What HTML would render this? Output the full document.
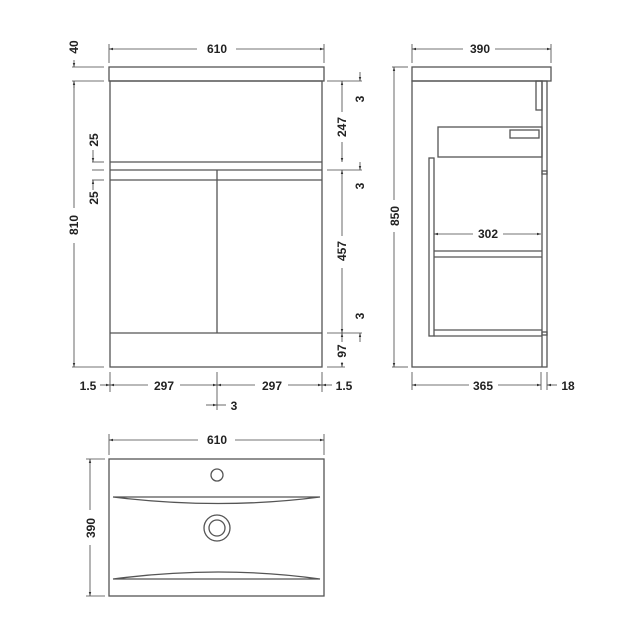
<!DOCTYPE html>
<html><head><meta charset="utf-8"><style>html,body{margin:0;padding:0;background:#fff}svg{display:block}
text{font-family:"Liberation Sans",sans-serif;font-weight:bold;font-size:12px;fill:#222}</style></head>
<body>
<svg width="643" height="643" viewBox="0 0 643 643" xmlns="http://www.w3.org/2000/svg">
<defs>
<marker id="a" viewBox="0 0 10 10" refX="10" refY="5" markerWidth="5" markerHeight="5" orient="auto-start-reverse"><path d="M0,2 L10,5 L0,8z" fill="#333"/></marker>
</defs>
<g stroke="#555" stroke-width="1.3" fill="none">
<!-- front view -->
<rect x="109" y="67" width="215" height="14"/>
<rect x="110" y="81" width="212" height="286"/>
<line x1="110" y1="162" x2="322" y2="162"/>
<line x1="110" y1="170" x2="322" y2="170"/>
<line x1="110" y1="180" x2="322" y2="180"/>
<line x1="217" y1="170" x2="217" y2="333"/>
<line x1="110" y1="333" x2="322" y2="333"/>
</g>
<g stroke="#444" stroke-width="0.8" fill="none">
<line x1="109" y1="44" x2="109" y2="63"/><line x1="324" y1="44" x2="324" y2="63"/>
<line x1="109" y1="49" x2="197" y2="49" marker-start="url(#a)"/><line x1="236" y1="49" x2="324" y2="49" marker-end="url(#a)"/>
<line x1="72" y1="67" x2="104" y2="67"/><line x1="72" y1="81" x2="104" y2="81"/>
<line x1="74" y1="60" x2="74" y2="67" marker-end="url(#a)"/><line x1="74" y1="81" x2="74" y2="88"/>
<line x1="74" y1="81" x2="74" y2="208" marker-start="url(#a)"/><line x1="74" y1="243" x2="74" y2="367" marker-end="url(#a)"/>
<line x1="72" y1="367" x2="104" y2="367"/>
<line x1="92" y1="162" x2="104" y2="162"/><line x1="92" y1="170" x2="104" y2="170"/><line x1="92" y1="180" x2="104" y2="180"/>
<line x1="93" y1="150" x2="93" y2="162" marker-end="url(#a)"/><line x1="93" y1="180" x2="93" y2="190" marker-start="url(#a)"/>
<line x1="327" y1="81" x2="362" y2="81"/><line x1="327" y1="170" x2="362" y2="170"/><line x1="327" y1="333" x2="362" y2="333"/><line x1="327" y1="367" x2="345" y2="367"/>
<line x1="342" y1="81" x2="342" y2="112" marker-start="url(#a)"/><line x1="342" y1="142" x2="342" y2="162" marker-end="url(#a)"/>
<line x1="342" y1="170" x2="342" y2="236" marker-start="url(#a)"/><line x1="342" y1="268" x2="342" y2="333" marker-end="url(#a)"/>
<line x1="342" y1="333" x2="342" y2="342" marker-start="url(#a)"/><line x1="342" y1="362" x2="342" y2="367" marker-end="url(#a)"/>
<line x1="360" y1="72" x2="360" y2="81" marker-end="url(#a)"/><line x1="360" y1="162" x2="360" y2="170" marker-end="url(#a)"/><line x1="360" y1="333" x2="360" y2="342" marker-start="url(#a)"/>
<line x1="110" y1="372" x2="110" y2="392"/><line x1="217" y1="372" x2="217" y2="410"/><line x1="322" y1="372" x2="322" y2="392"/>
<line x1="100" y1="385" x2="110" y2="385" marker-end="url(#a)"/>
<line x1="110" y1="385" x2="148" y2="385" marker-start="url(#a)"/><line x1="180" y1="385" x2="217" y2="385" marker-end="url(#a)"/>
<line x1="217" y1="385" x2="255" y2="385" marker-start="url(#a)"/><line x1="288" y1="385" x2="322" y2="385" marker-end="url(#a)"/>
<line x1="322" y1="385" x2="332" y2="385" marker-start="url(#a)"/>
<line x1="206" y1="405" x2="217" y2="405" marker-end="url(#a)"/><line x1="217" y1="405" x2="226" y2="405"/>
</g>
<g fill="#222">
<text x="217" y="53" text-anchor="middle">610</text>
<text transform="translate(78,47) rotate(-90)" text-anchor="middle">40</text>
<text transform="translate(78,225) rotate(-90)" text-anchor="middle">810</text>
<text transform="translate(98,140) rotate(-90)" text-anchor="middle">25</text>
<text transform="translate(98,198) rotate(-90)" text-anchor="middle">25</text>
<text transform="translate(346,127) rotate(-90)" text-anchor="middle">247</text>
<text transform="translate(346,251) rotate(-90)" text-anchor="middle">457</text>
<text transform="translate(346,351) rotate(-90)" text-anchor="middle">97</text>
<text transform="translate(364,99) rotate(-90)" text-anchor="middle">3</text>
<text transform="translate(364,186) rotate(-90)" text-anchor="middle">3</text>
<text transform="translate(364,316) rotate(-90)" text-anchor="middle">3</text>
<text x="88" y="390" text-anchor="middle">1.5</text>
<text x="164" y="390" text-anchor="middle">297</text>
<text x="272" y="390" text-anchor="middle">297</text>
<text x="344" y="390" text-anchor="middle">1.5</text>
<text x="234" y="410" text-anchor="middle">3</text>
</g>
<!-- side view -->
<g stroke="#555" stroke-width="1.3" fill="none">
<rect x="412" y="67" width="139" height="14"/>
<rect x="412" y="81" width="135" height="286"/>
<line x1="542" y1="81" x2="542" y2="367"/>
<rect x="536" y="81" width="6" height="29"/>
<rect x="438" y="127" width="104" height="30"/>
<rect x="510" y="130" width="29" height="8"/>
<rect x="429" y="158" width="5" height="178"/>
<line x1="434" y1="251" x2="542" y2="251"/><line x1="434" y1="257" x2="542" y2="257"/>
<line x1="434" y1="330" x2="542" y2="330"/><line x1="434" y1="336" x2="542" y2="336"/>
<rect x="542" y="171" width="5" height="3"/><rect x="542" y="332" width="5" height="3"/>
</g>
<g stroke="#444" stroke-width="0.8" fill="none">
<line x1="412" y1="44" x2="412" y2="63"/><line x1="551" y1="44" x2="551" y2="63"/>
<line x1="412" y1="49" x2="463" y2="49" marker-start="url(#a)"/><line x1="495" y1="49" x2="551" y2="49" marker-end="url(#a)"/>
<line x1="392" y1="67" x2="408" y2="67"/><line x1="392" y1="367" x2="408" y2="367"/>
<line x1="394" y1="67" x2="394" y2="200" marker-start="url(#a)"/><line x1="394" y1="232" x2="394" y2="367" marker-end="url(#a)"/>
<line x1="434" y1="234" x2="473" y2="234" marker-start="url(#a)"/><line x1="503" y1="234" x2="541" y2="234" marker-end="url(#a)"/>
<line x1="412" y1="372" x2="412" y2="390"/><line x1="541" y1="372" x2="541" y2="390"/><line x1="547" y1="372" x2="547" y2="390"/>
<line x1="412" y1="385" x2="469" y2="385" marker-start="url(#a)"/><line x1="498" y1="385" x2="541" y2="385" marker-end="url(#a)"/>
<line x1="547" y1="385" x2="557" y2="385" marker-start="url(#a)"/>
</g>
<text x="480" y="53" text-anchor="middle">390</text>
<text transform="translate(399,216) rotate(-90)" text-anchor="middle">850</text>
<text x="488" y="238" text-anchor="middle">302</text>
<text x="483" y="390" text-anchor="middle">365</text>
<text x="568" y="390" text-anchor="middle">18</text>
<!-- plan view -->
<g stroke="#555" stroke-width="1.3" fill="none">
<rect x="109" y="459" width="215" height="137"/>
<circle cx="217" cy="475" r="6"/>
<circle cx="217" cy="528" r="13"/><circle cx="217" cy="528" r="8"/>
<path d="M113,497 L320,497 Q220,510 113,497"/>
<path d="M113,579 L320,579 Q220,565 113,579"/>
</g>
<g stroke="#444" stroke-width="0.8" fill="none">
<line x1="109" y1="434" x2="109" y2="455"/><line x1="324" y1="434" x2="324" y2="455"/>
<line x1="109" y1="440" x2="198" y2="440" marker-start="url(#a)"/><line x1="235" y1="440" x2="324" y2="440" marker-end="url(#a)"/>
<line x1="86" y1="459" x2="105" y2="459"/><line x1="86" y1="596" x2="105" y2="596"/>
<line x1="90" y1="459" x2="90" y2="510" marker-start="url(#a)"/><line x1="90" y1="545" x2="90" y2="596" marker-end="url(#a)"/>
</g>
<text x="217" y="444" text-anchor="middle">610</text>
<text transform="translate(95,528) rotate(-90)" text-anchor="middle">390</text>
</svg>
</body></html>
